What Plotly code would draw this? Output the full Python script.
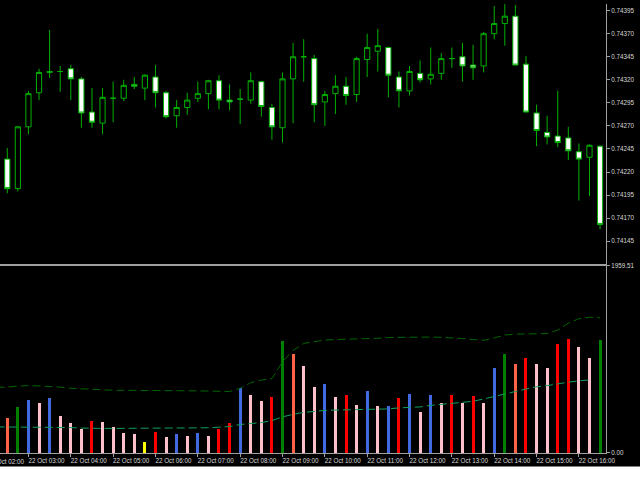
import plotly.graph_objects as go

# 15 minute bars, 22 Oct
day = "2020-10-22"
bar_times = ["02:15", "02:30", "02:45",
             "03:00", "03:15", "03:30", "03:45", "04:00", "04:15", "04:30", "04:45",
             "05:00", "05:15", "05:30", "05:45", "06:00", "06:15", "06:30", "06:45",
             "07:00", "07:15", "07:30", "07:45", "08:00", "08:15", "08:30", "08:45",
             "09:00", "09:15", "09:30", "09:45", "10:00", "10:15", "10:30", "10:45",
             "11:00", "11:15", "11:30", "11:45", "12:00", "12:15", "12:30", "12:45",
             "13:00", "13:15", "13:30", "13:45", "14:00", "14:15", "14:30", "14:45",
             "15:00", "15:15", "15:30", "15:45", "16:00", "16:15", "16:30"]

opens = [0.74217, 0.74234, 0.74202, 0.74269, 0.74306, 0.74328, 0.74329, 0.74332, 0.74321, 0.74285,
         0.74273, 0.74300, 0.74300, 0.74315, 0.74311, 0.74323, 0.74306, 0.74281, 0.74290, 0.74300,
         0.74305, 0.74319, 0.74298, 0.74299, 0.74298, 0.74318, 0.74290, 0.74268, 0.74321, 0.74345,
         0.74343, 0.74296, 0.74305, 0.74313, 0.74304, 0.74342, 0.74351, 0.74355, 0.74323, 0.74308,
         0.74327, 0.74321, 0.74327, 0.74343, 0.74345, 0.74336, 0.74335, 0.74370, 0.74381, 0.74389,
         0.74337, 0.74284, 0.74263, 0.74259, 0.74257, 0.74242, 0.74236, 0.74248]
highs = [0.74236, 0.74246, 0.74270, 0.74308, 0.74332, 0.74374, 0.74335, 0.74336, 0.74323, 0.74311,
         0.74311, 0.74318, 0.74320, 0.74323, 0.74326, 0.74336, 0.74308, 0.74298, 0.74306, 0.74318,
         0.74320, 0.74325, 0.74315, 0.74310, 0.74328, 0.74319, 0.74294, 0.74328, 0.74360, 0.74364,
         0.74347, 0.74308, 0.74325, 0.74323, 0.74345, 0.74370, 0.74375, 0.74356, 0.74329, 0.74335,
         0.74341, 0.74355, 0.74349, 0.74355, 0.74360, 0.74358, 0.74372, 0.74400, 0.74402, 0.74401,
         0.74346, 0.74293, 0.74281, 0.74308, 0.74269, 0.74251, 0.74250, 0.74249]
lows = [0.74213, 0.74197, 0.74199, 0.74261, 0.74298, 0.74322, 0.74307, 0.74298, 0.74268, 0.74268,
        0.74261, 0.74274, 0.74297, 0.74310, 0.74298, 0.74290, 0.74278, 0.74268, 0.74282, 0.74296,
        0.74288, 0.74288, 0.74287, 0.74272, 0.74294, 0.74280, 0.74255, 0.74252, 0.74273, 0.74318,
        0.74274, 0.74270, 0.74283, 0.74293, 0.74296, 0.74323, 0.74329, 0.74301, 0.74290, 0.74303,
        0.74317, 0.74315, 0.74320, 0.74333, 0.74318, 0.74320, 0.74328, 0.74364, 0.74357, 0.74336,
        0.74285, 0.74248, 0.74250, 0.74247, 0.74233, 0.74189, 0.74194, 0.74158]
closes = [0.74232, 0.74202, 0.74269, 0.74305, 0.74328, 0.74329, 0.74329, 0.74321, 0.74284, 0.74274,
          0.74301, 0.74300, 0.74314, 0.74313, 0.74325, 0.74306, 0.74280, 0.74290, 0.74298, 0.74305,
          0.74319, 0.74298, 0.74296, 0.74299, 0.74319, 0.74291, 0.74269, 0.74321, 0.74345, 0.74345,
          0.74293, 0.74304, 0.74313, 0.74303, 0.74343, 0.74355, 0.74357, 0.74325, 0.74308, 0.74329,
          0.74320, 0.74326, 0.74343, 0.74343, 0.74335, 0.74333, 0.74370, 0.74381, 0.74389, 0.74336,
          0.74285, 0.74265, 0.74258, 0.74252, 0.74243, 0.74234, 0.74249, 0.74163]

volumes = [300, 366, 480, 563, 522, 577, 394, 318, 259, 339,
           329, 277, 210, 197, 117, 228, 173, 204, 179, 210,
           179, 256, 318, 684, 609, 546, 594, 1172, 1044, 912,
           692, 729, 594, 612, 508, 650, 498, 498, 581, 619,
           435, 612, 529, 612, 529, 601, 526, 895, 1044, 936,
           992, 936, 895, 1140, 1200, 1109, 998, 1189]
vol_kind = ["P", "T", "G", "B", "P", "B", "P", "P", "P", "R",
            "P", "P", "P", "P", "Y", "R", "P", "B", "P", "B",
            "P", "R", "R", "B", "P", "P", "R", "G", "T", "P",
            "P", "B", "P", "R", "P", "B", "P", "B", "R", "B",
            "P", "B", "P", "R", "P", "R", "P", "B", "G", "T",
            "R", "P", "P", "R", "R", "P", "P", "G"]
vol_avg = [273, 273, 273, 273, 273, 273, 273, 266, 261, 257,
           257, 257, 257, 257, 257, 257, 257, 257, 257, 257,
           264, 270, 277, 298, 308, 318, 339, 378, 404, 425,
           435, 446, 449, 451, 453, 453, 454, 461, 472, 479,
           482, 498, 508, 523, 529, 541, 565, 589, 620, 643,
           669, 692, 705, 726, 741, 755, 764, None]
vol_band = [687, 689, 700, 705, 702, 698, 689, 677, 671, 664,
            660, 656, 656, 656, 656, 656, 656, 656, 656, 650,
            648, 643, 643, 677, 736, 762, 778, 954, 1073, 1146,
            1166, 1182, 1187, 1189, 1192, 1197, 1200, 1208, 1211, 1213,
            1213, 1213, 1210, 1206, 1197, 1187, 1179, 1203, 1234, 1244,
            1247, 1247, 1249, 1286, 1358, 1405, 1420, 1415]

price_ticks = [0.74145, 0.74170, 0.74195, 0.74220, 0.74245, 0.74270,
               0.74295, 0.74320, 0.74345, 0.74370, 0.74395]
vol_max = 1959.51

kind_colors = {"T": "#ff6347", "G": "#008000", "B": "#4169e1",
               "P": "#ffc0cb", "R": "#ff0000", "Y": "#ffff00"}

x = [f"{day} {t}" for t in bar_times]
axis_grey = "#a0a0a0"
text_col = "#d8d8d8"
tick_font = dict(family="Liberation Sans", size=6.3, color=text_col)

fig = go.Figure()

fig.add_trace(go.Candlestick(
    x=x, open=opens, high=highs, low=lows, close=closes,
    increasing=dict(line=dict(color="#00b000", width=1), fillcolor="#000000"),
    decreasing=dict(line=dict(color="#00b000", width=1), fillcolor="#ffffff"),
    whiskerwidth=0, xaxis="x", yaxis="y", showlegend=False,
))

fig.add_trace(go.Bar(
    x=x, y=volumes, width=255000,
    marker=dict(color=[kind_colors[k] for k in vol_kind], line=dict(width=0)),
    xaxis="x2", yaxis="y2", showlegend=False,
))

fig.add_trace(go.Scatter(
    x=x, y=vol_band, mode="lines",
    line=dict(color="#006400", width=1, dash="8px,4px"),
    xaxis="x2", yaxis="y2", showlegend=False,
))
fig.add_trace(go.Scatter(
    x=x, y=vol_avg, mode="lines",
    line=dict(color="#10a060", width=1, dash="8px,4px"),
    xaxis="x2", yaxis="y2", showlegend=False,
))

x_range = ["2020-10-22 02:19:41", "2020-10-22 16:38:24"]

fig.update_layout(
    width=640, height=480,
    margin=dict(l=0, r=34, t=0, b=27),
    paper_bgcolor="#000000", plot_bgcolor="#000000",
    bargap=0,
    xaxis=dict(domain=[0, 1], anchor="y", matches="x2", range=x_range,
               showticklabels=False, showgrid=False, zeroline=False,
               showline=True, linecolor=axis_grey, linewidth=2,
               rangeslider=dict(visible=False)),
    yaxis=dict(domain=[0.4205, 1], anchor="x", side="right",
               range=[0.7412006, 0.744022], tickvals=price_ticks, tickformat=".5f",
               ticks="outside", ticklen=3, tickcolor=axis_grey,
               showline=True, linecolor=axis_grey, linewidth=1,
               showgrid=False, zeroline=False, tickfont=tick_font),
    xaxis2=dict(domain=[0, 1], anchor="y2", type="date", range=x_range,
                dtick=3600000, tickformat="%d %b %H:%M",
                ticks="outside", ticklen=3, tickcolor=axis_grey,
                showline=True, linecolor=axis_grey, linewidth=1,
                showgrid=False, zeroline=False, tickfont=tick_font,
                ticklabelshift=18, ticklabelstandoff=-2),
    yaxis2=dict(domain=[0, 0.4172], anchor="x2", side="right",
                range=[0, vol_max], tickvals=[0, vol_max],
                ticktext=["0.00", f"{vol_max:.2f}"],
                ticks="outside", ticklen=3, tickcolor=axis_grey,
                showline=True, linecolor=axis_grey, linewidth=1,
                showgrid=False, zeroline=False, tickfont=tick_font),
    shapes=[dict(type="rect", xref="paper", yref="paper",
                 x0=-0.05, x1=1.1, y0=-0.08, y1=-0.0302,
                 fillcolor="#ffffff", line=dict(width=0), layer="above")],
    # the 02:00 label starts left of the visible range and is cut by the edge
    annotations=[dict(x=-0.0215, xref="paper", y=-0.0085, yref="paper",
                      text="22 Oct 02:00", showarrow=False, xanchor="left",
                      yanchor="top", borderpad=0, font=tick_font)],
)

fig.write_html("out.html", config={"displayModeBar": False},
               post_script="document.body.style.margin='0';")
